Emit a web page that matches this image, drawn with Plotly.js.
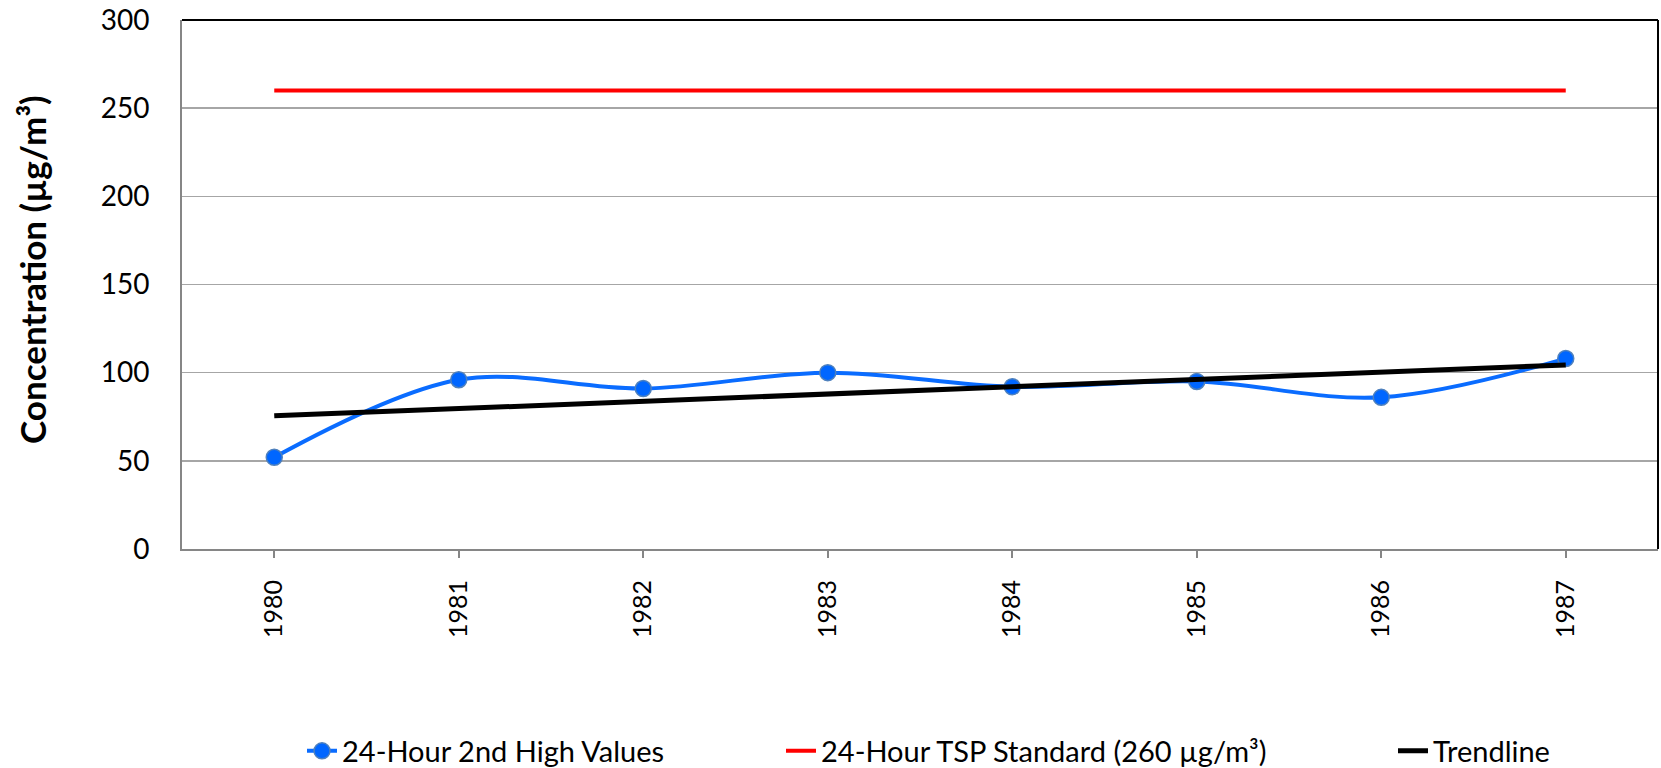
<!DOCTYPE html>
<html>
<head>
<meta charset="utf-8">
<script src="https://cdn.plot.ly/plotly-3.0.1.min.js"></script>
<style>html,body{margin:0;padding:0;background:#fff;}#chart{width:1661px;height:768px;}</style>
</head>
<body>
<div id="chart"></div>
<script>
const years = [1980, 1981, 1982, 1983, 1984, 1985, 1986, 1987];
const secondHigh = [52, 96, 91, 100, 92, 95, 86, 108];
const standardYears = [1980, 1987];
const standardValues = [260, 260];
const trendYears = [1980, 1987];
const trendValues = [75.5, 104.4];
const tickLabels = ['1980', '1981', '1982', '1983', '1984', '1985', '1986', '1987'];
const yTitle = 'Concentration (µg/m³)';

const FONT = 'Lato, "Open Sans", sans-serif';
const L = 182, R = 3, T = 20, B = 219;
const W = 1661 - L - R, H = 768 - T - B;
function px(x) { return (x - L) / W; }
function py(y) { return (768 - B - y) / H; }

const traces = [
  {
    x: years, y: secondHigh, type: 'scatter', mode: 'lines+markers',
    name: '24-Hour 2nd High Values',
    line: {color: '#0a6cff', width: 4, shape: 'spline', smoothing: 1},
    marker: {color: '#0066ff', size: 16, line: {color: '#4f81bd', width: 1.5}},
    legend: 'legend'
  },
  {
    x: standardYears, y: standardValues, type: 'scatter', mode: 'lines',
    name: '24-Hour TSP Standard (260 µg/m³)',
    line: {color: '#ff0000', width: 4},
    legend: 'legend2'
  },
  {
    x: trendYears, y: trendValues, type: 'scatter', mode: 'lines',
    name: 'Trendline',
    line: {color: '#000000', width: 5},
    legend: 'legend3'
  }
];

function leg(x) {
  return {x: x, xanchor: 'left', y: py(751), yanchor: 'middle', orientation: 'h',
    font: {family: FONT, size: 29, color: '#000'}, bgcolor: 'rgba(0,0,0,0)'};
}

const layout = {
  width: 1661, height: 768,
  margin: {l: L, r: R, t: T, b: B, autoexpand: false},
  paper_bgcolor: '#fff', plot_bgcolor: '#fff',
  showlegend: true,
  legend: leg(px(302)),
  legend2: leg(px(781)),
  legend3: leg(px(1393)),
  xaxis: {
    range: [1979.5, 1987.5], tickmode: 'array', tickvals: years, ticktext: tickLabels,
    tickangle: -90, ticks: 'outside', ticklen: 7, tickwidth: 2, tickcolor: '#868686',
    ticklabelstandoff: 12,
    showgrid: false, zeroline: false, showline: true, linecolor: '#868686', linewidth: 2,
    tickfont: {family: FONT, size: 25, color: '#000'}, fixedrange: true
  },
  yaxis: {
    range: [0, 300], dtick: 50, tick0: 0, ticks: '',
    ticklabelstandoff: 25,
    showgrid: true, gridcolor: '#a6a6a6', gridwidth: 1.5, zeroline: false,
    showline: true, linecolor: '#868686', linewidth: 2,
    tickfont: {family: FONT, size: 28, color: '#000'}
  },
  annotations: [
    {text: '<b>' + yTitle + '</b>', xref: 'paper', yref: 'paper', x: px(32), y: py(270),
     xanchor: 'center', yanchor: 'middle', textangle: -90, showarrow: false,
     font: {family: FONT, size: 35, color: '#000'}}
  ],
  shapes: [
    {type: 'line', xref: 'paper', yref: 'paper', x0: 0, x1: 1, y0: 1, y1: 1, line: {color: '#000', width: 2}},
    {type: 'line', xref: 'paper', yref: 'paper', x0: 1, x1: 1, y0: 0, y1: 1, line: {color: '#000', width: 2}}
  ]
};

Plotly.newPlot('chart', traces, layout, {displayModeBar: false, staticPlot: true});
</script>
</body>
</html>
